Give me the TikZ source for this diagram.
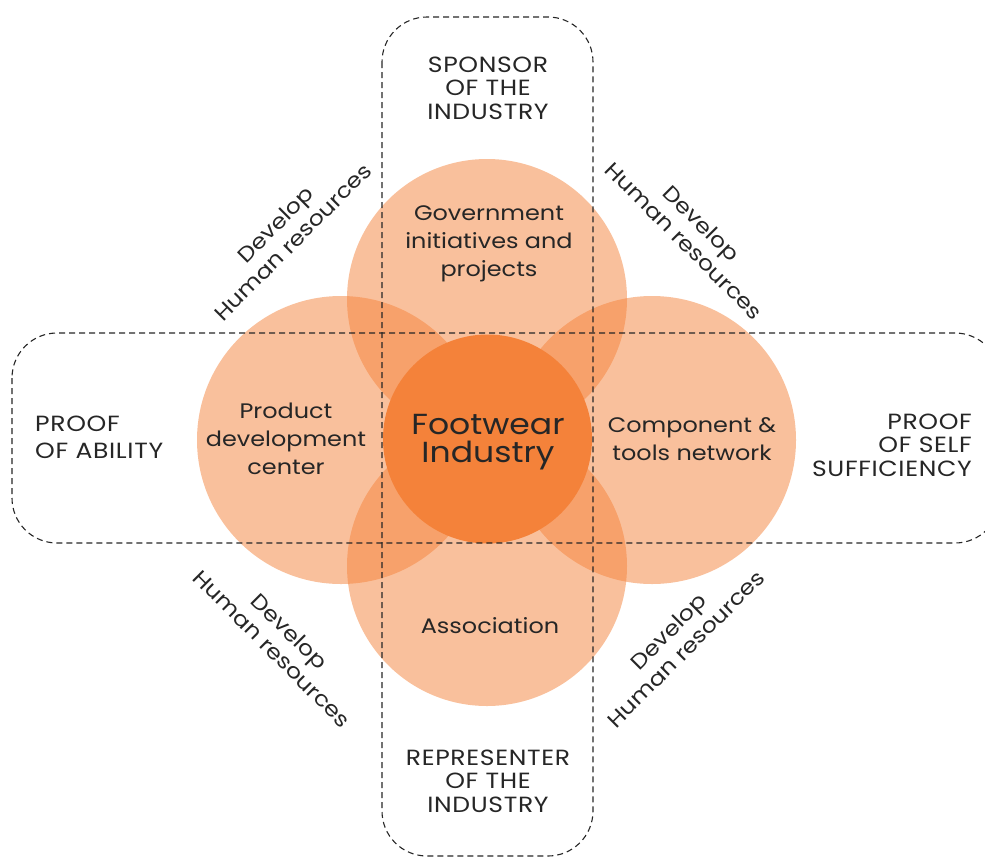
\documentclass[tikz,border=0pt]{standalone}
\usepackage{fontspec}
\setmainfont[FakeStretch=1.14]{Poppins}
\definecolor{fworange}{HTML}{F4823A}
\definecolor{ink}{HTML}{262626}
\begin{document}
\begin{tikzpicture}[x=1pt,y=-1pt,
  petal/.style={circle, fill=fworange, fill opacity=0.5, draw=none, inner sep=0pt},
  core/.style={circle, fill=fworange, draw=none, inner sep=0pt},
  band/.style={draw=ink, dash pattern=on 6pt off 4pt, line width=1.1pt, rounded corners=45pt},
  lbl/.style={text=ink, align=center, font=\fontsize{21}{28}\selectfont, inner sep=0pt},
  bandcaption/.style={text=ink, align=center, font=\fontsize{22}{23.5}\selectfont\addfontfeature{LetterSpace=3}, inner sep=0pt},
  hr/.style={text=ink, align=center, font=\fontsize{21}{25}\selectfont, inner sep=0pt},
]
\useasboundingbox (0,0) rectangle (985,857);

% four outer petals, translucent so their overlaps darken
\node[petal, minimum size=280pt] (gov)  at (487,299) {};
\node[petal, minimum size=288pt] (prod) at (341,440) {};
\node[petal, minimum size=288pt] (comp) at (652,440) {};
\node[petal, minimum size=280pt] (assn) at (487,566) {};

% central circle
\node[core, minimum size=209pt] (core) at (487.5,439) {};

% dashed bands
\draw[band] (382,17) rectangle (593,856);
\draw[band] (12,333) rectangle (1000,543);

% circle labels
\node[lbl] (govtxt)  at (489,244) {Government\\initiatives and\\projects};
\node[lbl] (prodtxt) at (286,439) {Product\\development\\center};
\node[lbl] (comptxt) at (692,439) {Component \&\\tools network};
\node[lbl] (assntxt) at (490,626) {Association};
\node[text=ink, align=center, inner sep=0pt, font=\fontsize{29}{28}\selectfont] (coretxt) at (488,442) {Footwear\\Industry};

% band captions
\node[bandcaption] (sponsor) at (488,88) {SPONSOR\\OF THE\\INDUSTRY};
\node[bandcaption] (repr)    at (488,781) {REPRESENTER\\OF THE\\INDUSTRY};
\node[bandcaption, align=left, anchor=west, font=\fontsize{22}{27}\selectfont\addfontfeature{LetterSpace=3}] (ability) at (35,437) {PROOF\\OF ABILITY};
\node[bandcaption, align=right, anchor=east] (selfsuf) at (972,445) {PROOF\\OF SELF\\SUFFICIENCY};

% diagonal captions
\node[hr, rotate=45]  (hrtl) at (284,233) {Develop\\Human resources};
\node[hr, rotate=-45] (hrtr) at (693,232) {Develop\\Human resources};
\node[hr, rotate=-45] (hrbl) at (281,640) {Develop\\Human resources};
\node[hr, rotate=45]  (hrbr) at (677,640) {Develop\\Human resources};
\end{tikzpicture}
\end{document}
